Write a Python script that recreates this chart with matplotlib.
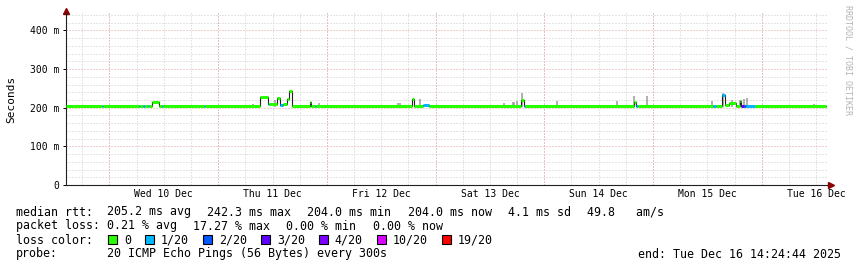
import numpy as np
import pandas as pd
import matplotlib
matplotlib.use("Agg")
from matplotlib import pyplot as plt
import matplotlib.dates as mdates
from matplotlib.patches import Rectangle
from matplotlib.ticker import MultipleLocator, FuncFormatter

start = pd.Timestamp("2025-12-09 14:24:44")
end = pd.Timestamp("2025-12-16 14:24:44")
line_end = pd.Timestamp("2025-12-16 14:05")

# median rtt steps, each value holds until the next start (ms, loss colour index)
seg_start = ["12-09 14:25", "12-09 22:25", "12-09 22:40", "12-10 06:35", "12-10 06:50",
             "12-10 07:30", "12-10 07:45", "12-10 08:25", "12-10 08:40", "12-10 09:25",
             "12-10 11:00", "12-10 11:40", "12-10 11:55", "12-10 20:55", "12-10 21:10",
             "12-11 09:15", "12-11 11:00", "12-11 11:15", "12-11 13:05", "12-11 13:40",
             "12-11 14:25", "12-11 15:10", "12-11 15:35", "12-11 16:15", "12-11 20:15",
             "12-11 20:35", "12-11 21:25", "12-11 21:40", "12-12 18:45", "12-12 19:20",
             "12-12 21:10", "12-12 22:30", "12-13 18:50", "12-13 19:25", "12-13 19:50",
             "12-14 19:45", "12-14 20:15", "12-14 20:35", "12-15 13:15", "12-15 13:50",
             "12-15 15:10", "12-15 15:50", "12-15 16:50", "12-15 18:20", "12-15 19:10",
             "12-15 19:30", "12-15 20:05", "12-15 20:35", "12-15 22:25"]
seg_median_ms = [204, 204, 204, 204, 204, 204, 204, 204, 204, 214,
                 204, 204, 204, 204, 204, 228, 209, 209, 226, 206,
                 210, 222, 244, 204, 216, 204, 204, 204, 222, 204,
                 208, 204, 221, 204, 204, 214, 204, 204, 204, 204,
                 233, 207, 211, 204, 218, 204, 204, 204, 204]
seg_loss = [0, 1, 0, 1, 0, 1, 0, 1, 0, 0,
            0, 1, 0, 1, 0, 0, 1, 0, 0, 1,
            0, 0, 0, 0, 0, 0, 1, 0, 0, 0,
            1, 0, 0, 1, 0, 0, 1, 0, 1, 0,
            1, 0, 0, 0, 0, 3, 2, 1, 0]

# smoke spikes (ping spread)
smoke_time = ["12-11 07:40", "12-11 12:35", "12-11 22:15", "12-12 15:45", "12-12 16:05",
              "12-12 20:30", "12-13 15:05", "12-13 17:05", "12-13 17:25", "12-13 17:55",
              "12-13 19:00", "12-14 02:50", "12-14 16:05", "12-14 19:50", "12-14 22:45",
              "12-15 13:05", "12-15 15:25", "12-15 17:30", "12-15 19:15", "12-15 20:00",
              "12-15 20:45", "12-16 11:30"]
smoke_low_ms = [201] * len(smoke_time)
smoke_top_ms = [209, 220, 211, 213, 213, 223, 211, 214, 214, 217,
                237, 218, 218, 230, 230, 217, 237, 221, 221, 223,
                225, 210]

loss_labels = ["0", "1/20", "2/20", "3/20", "4/20", "10/20", "19/20"]
loss_colors = ["#26ff00", "#00b8ff", "#0059ff", "#5e00ff", "#7e00ff", "#dd00ff", "#ff0000"]

rtt_stats = ["205.2 ms avg", "242.3 ms max", "204.0 ms min", "204.0 ms now", "4.1 ms sd", "49.8   am/s"]
loss_stats = ["0.21 % avg", "17.27 % max", "0.00 % min", "0.00 % now"]
probe_text = "20 ICMP Echo Pings (56 Bytes) every 300s"
end_text = "end: Tue Dec 16 14:24:44 2025"

W, H = 857, 267
mono = "DejaVu Sans Mono"
plt.rcParams["font.family"] = mono

t = pd.to_datetime(["2025-" + s for s in seg_start])
t_next = list(t[1:]) + [line_end]
med = np.array(seg_median_ms) / 1000.0


def fx(px):
    return px / W


def fy(py):
    return 1 - py / H


fig = plt.figure(figsize=(W / 100, H / 100), dpi=100)
fig.patch.set_facecolor("white")
ax = fig.add_axes([66 / W, 82 / H, 761 / W, 172 / H])
ax.set_xlim(start, end)
ax.set_ylim(0, 0.445)

# grid
ax.xaxis.set_major_locator(mdates.HourLocator(byhour=[12]))
ax.xaxis.set_minor_locator(mdates.HourLocator(byhour=[0, 6, 18]))
ax.xaxis.set_major_formatter(mdates.DateFormatter("%a %d %b"))
ax.yaxis.set_major_locator(MultipleLocator(0.1))
ax.yaxis.set_minor_locator(MultipleLocator(0.02))
ax.yaxis.set_major_formatter(FuncFormatter(lambda v, p: "0" if abs(v) < 1e-9 else f"{v * 1000:.0f} m"))

grey = dict(color="#cdcdcd", linestyle=(0, (1, 2)), linewidth=0.72)
red = dict(color="#e6a2a2", linestyle=(0, (1, 2)), linewidth=0.72)
ax.grid(True, which="both", axis="x", **grey)
ax.grid(True, which="minor", axis="y", **grey)
ax.grid(True, which="major", axis="y", **red)
for d in pd.date_range("2025-12-10", "2025-12-16", freq="D"):
    ax.axvline(d, zorder=0.6, **red)
ax.set_axisbelow(True)

ax.tick_params(axis="x", which="both", length=0, pad=3.2, labelsize=7)
ax.tick_params(axis="y", which="major", length=2.5, width=0.72, pad=2.3, labelsize=7, direction="out")
ax.tick_params(axis="y", which="minor", length=0)

for s in ["top", "right"]:
    ax.spines[s].set_visible(False)
for s in ["left", "bottom"]:
    ax.spines[s].set_linewidth(0.8)
    ax.spines[s].set_color("#202020")

# arrows
ax.plot([0], [1.0 + 2.5 / 172], marker="^", ms=4.2, color="#8b0000", transform=ax.transAxes, clip_on=False)
ax.plot([1.0 + 3.5 / 761], [0], marker=">", ms=4.2, color="#8b0000", transform=ax.transAxes, clip_on=False)

# smoke
st = pd.to_datetime(["2025-" + s for s in smoke_time])
ax.vlines(st, np.array(smoke_low_ms) / 1000, np.array(smoke_top_ms) / 1000,
          color="#9a9a9a", linewidth=1.1, zorder=2)

# median: thin dark step line, then loss-coloured thick segments
ax.step(list(t) + [line_end], list(med) + [med[-1]], where="post", color="#202020", linewidth=0.8, zorder=3)
ax.hlines(med, t, t_next, colors=[loss_colors[i] for i in seg_loss], linewidth=2.2,
          capstyle="butt", zorder=4)

fig.text(fx(11), fy(99), "Seconds", rotation=90, fontsize=8, ha="center", va="center")
fig.text(fx(848), fy(60), "RRDTOOL / TOBI OETIKER", rotation=270, fontsize=6, color="#b4b4b4",
         ha="center", va="center")

# legend text block
fs = 8.4
cw = 7.02
base = [215.5, 229.5, 243.5, 257.5]
fig.text(fx(16), fy(base[0]), "median rtt:", fontsize=fs, va="baseline")
x = 107
for s in rtt_stats:
    fig.text(fx(x), fy(base[0]), s, fontsize=fs, va="baseline")
    x += len(s) * cw + 16

fig.text(fx(16), fy(base[1]), "packet loss:", fontsize=fs, va="baseline")
x = 107
for s in loss_stats:
    fig.text(fx(x), fy(base[1]), s, fontsize=fs, va="baseline")
    x += len(s) * cw + 16

fig.text(fx(16), fy(base[2]), "loss color:", fontsize=fs, va="baseline")
x = 108.3
for lab, col in zip(loss_labels, loss_colors):
    fig.add_artist(Rectangle((fx(x), fy(base[2])), 8.3 / W, 8.3 / H, facecolor=col,
                             edgecolor="black", linewidth=0.8, transform=fig.transFigure))
    fig.text(fx(x + 15.5), fy(base[2]), lab, fontsize=fs, va="baseline")
    x += 15.5 + len(lab) * 7.0 + 14.5

fig.text(fx(16), fy(base[3]), "probe:", fontsize=fs, va="baseline")
fig.text(fx(107), fy(base[3]), probe_text, fontsize=fs, va="baseline")
fig.text(fx(841), fy(base[3]), end_text, fontsize=fs, va="baseline", ha="right")

fig.savefig("out.png", dpi=100, facecolor="white")
